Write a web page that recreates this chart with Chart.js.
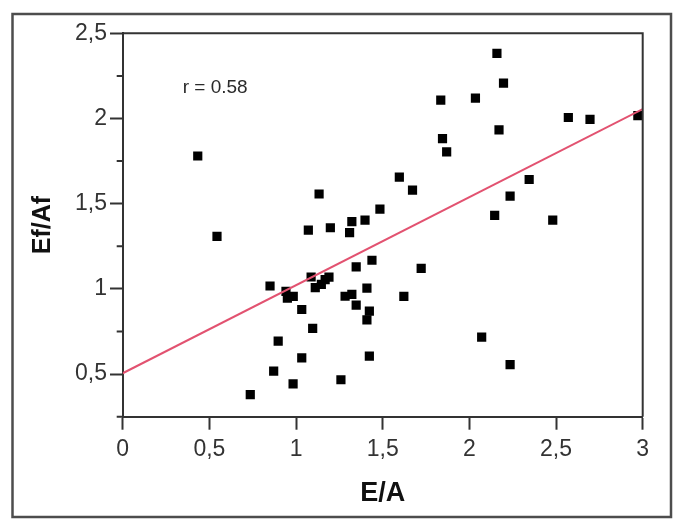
<!DOCTYPE html>
<html><head><meta charset="utf-8">
<script src="https://cdn.jsdelivr.net/npm/chart.js@4"></script>
<style>html,body{margin:0;padding:0;background:#fff;}canvas{display:block;}</style>
</head><body>
<canvas id="c" width="685" height="524"></canvas>
<script>
// ---- data ----
const eaValues = [0.433, 0.544, 0.85, 0.871, 0.897, 0.736, 0.942, 0.95, 0.984, 0.983,
  1.033, 1.033, 1.071, 1.096, 1.087, 1.133, 1.111, 1.146, 1.168, 1.19,
  1.198, 1.259, 1.283, 1.309, 1.322, 1.322, 1.347, 1.347, 1.398, 1.409,
  1.423, 1.409, 1.423, 1.438, 1.484, 1.596, 1.622, 1.672, 1.722, 1.835,
  1.845, 1.869, 2.035, 2.071, 2.146, 2.159, 2.171, 2.197, 2.235, 2.235,
  2.345, 2.481, 2.571, 2.696, 2.972];
const efAfValues = [1.78, 1.308, 1.017, 0.518, 0.694, 0.38, 0.985, 0.946, 0.956, 0.443,
  0.879, 0.595, 1.345, 0.768, 1.07, 1.557, 1.007, 1.027, 1.054, 1.069,
  1.359, 0.467, 0.957, 1.33, 1.395, 0.968, 1.129, 0.905, 1.404, 1.005,
  0.87, 0.818, 0.605, 1.168, 1.468, 1.656, 0.956, 1.58, 1.12, 2.108,
  1.882, 1.804, 2.12, 0.717, 1.431, 2.382, 1.933, 2.208, 1.544, 0.556,
  1.642, 1.404, 2.006, 1.995, 2.017];
const regressionX = [0, 3];
const regressionY = [0.505, 2.055];
const xTickValues = [0, 0.5, 1, 1.5, 2, 2.5, 3];
const yTickValues = [0.5, 1, 1.5, 2, 2.5];
const annotationText = 'r = 0.58';
const annotationAt = [0.346, 2.147];
const xTitle = 'E/A';
const yTitle = 'Ef/Af';

const points = eaValues.map((v, i) => ({x: v, y: efAfValues[i]}));
const linePts = regressionX.map((v, i) => ({x: v, y: regressionY[i]}));
const isLabeled = (list, v) => list.some(t => Math.abs(t - v) < 1e-6);
const fmt = v => String(Math.round(v * 100) / 100).replace('.', ',');

const W = 685, H = 524;
const AXIS = '#333333';
const TICKFONT = {family: '"Liberation Sans", Arial, sans-serif', size: 23};

const decor = {
  id: 'decor',
  afterDraw(chart) {
    const {ctx, chartArea: a, scales: {x, y}} = chart;
    ctx.save();
    ctx.strokeStyle = AXIS;
    ctx.lineWidth = 2;
    ctx.beginPath();
    ctx.moveTo(a.left, a.top);
    ctx.lineTo(a.right, a.top);
    ctx.lineTo(a.right, a.bottom);
    ctx.stroke();
    // minor y ticks
    ctx.beginPath();
    y.ticks.forEach(t => {
      if (!isLabeled(yTickValues, t.value)) {
        const py = y.getPixelForValue(t.value);
        ctx.moveTo(a.left - 6, py);
        ctx.lineTo(a.left, py);
      }
    });
    ctx.stroke();
    // annotation
    ctx.font = '19px "Liberation Sans", Arial, sans-serif';
    ctx.fillStyle = '#2a2a2a';
    ctx.textBaseline = 'alphabetic';
    ctx.textAlign = 'left';
    ctx.fillText(annotationText, x.getPixelForValue(annotationAt[0]), y.getPixelForValue(annotationAt[1]));
    // outer frame
    ctx.strokeStyle = '#4d4d4d';
    ctx.lineWidth = 2.5;
    ctx.strokeRect(12.5, 14, W - 14 - 12.5, H - 7 - 14);
    ctx.restore();
  }
};

new Chart(document.getElementById('c'), {
  type: 'scatter',
  data: {
    datasets: [
      {
        label: 'Fit',
        type: 'line',
        data: linePts,
        borderColor: 'rgb(226,82,112)',
        borderWidth: 2,
        pointRadius: 0,
        showLine: true,
        fill: false,
        order: 0
      },
      {
        label: 'Ef/Af vs E/A',
        data: points,
        pointStyle: 'rect',
        pointRadius: 6.5,
        pointBorderWidth: 0,
        backgroundColor: '#000',
        borderColor: '#000',
        order: 1
      }
    ]
  },
  options: {
    responsive: false,
    animation: false,
    devicePixelRatio: 1,
    layout: {padding: {left: 0, top: 33.3, right: 42.3, bottom: 0}},
    plugins: {legend: {display: false}, tooltip: {enabled: false}},
    scales: {
      x: {
        type: 'linear', min: 0, max: 3,
        afterFit: s => { s.height = H - 416.7; },
        ticks: {stepSize: 0.5, font: TICKFONT, color: '#333', padding: 6.5,
          callback: v => isLabeled(xTickValues, v) ? fmt(v) : ''},
        grid: {drawOnChartArea: false, drawTicks: true, tickLength: 13, tickColor: AXIS, tickWidth: 2},
        border: {display: true, color: AXIS, width: 2},
        title: {display: true, text: xTitle, color: '#111',
          font: {family: '"Liberation Sans", Arial, sans-serif', size: 27, weight: 'bold'},
          padding: {top: 0, bottom: 13.8}}
      },
      y: {
        type: 'linear', min: 0.25, max: 2.5,
        afterFit: s => { s.width = 122.7; },
        ticks: {stepSize: 0.25, font: TICKFONT, color: '#333', padding: 3,
          callback: v => isLabeled(yTickValues, v) ? fmt(v) : ''},
        grid: {drawOnChartArea: false, drawTicks: true, tickLength: 12.7,
          tickColor: c => (c.tick && isLabeled(yTickValues, c.tick.value)) ? AXIS : 'rgba(0,0,0,0)', tickWidth: 2},
        border: {display: true, color: AXIS, width: 2},
        title: {display: true, text: yTitle, color: '#111',
          font: {family: '"Liberation Sans", Arial, sans-serif', size: 25, weight: 'bold'},
          padding: {top: 28.4, bottom: 0}}
      }
    }
  },
  plugins: [decor]
});
</script>
</body></html>
